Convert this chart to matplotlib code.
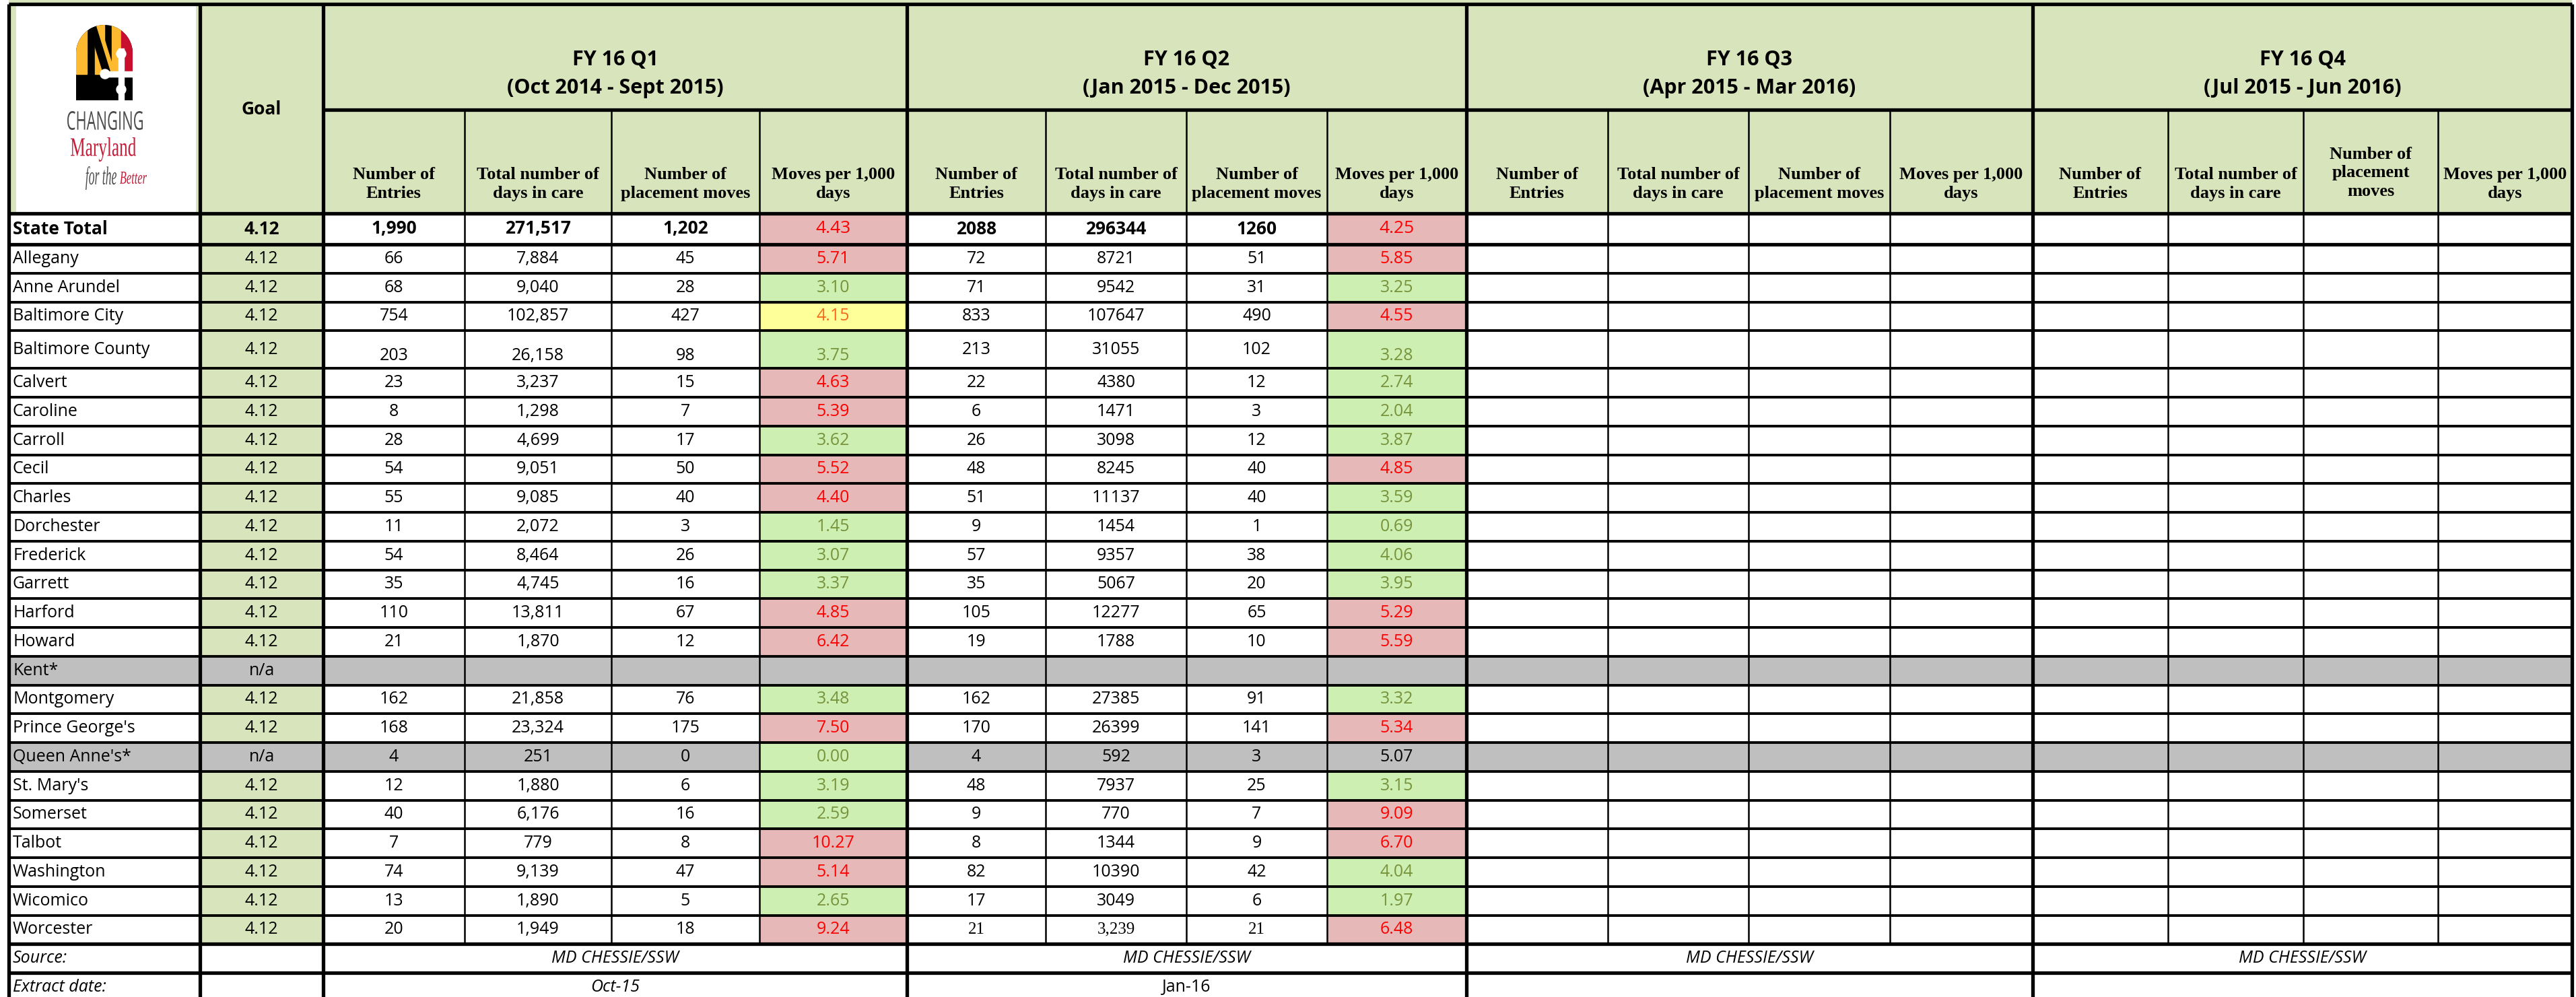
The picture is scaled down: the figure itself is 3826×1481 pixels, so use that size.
import numpy as np
import matplotlib.pyplot as plt
from matplotlib.patches import Rectangle, Circle, Polygon, PathPatch
from matplotlib.textpath import TextPath
from matplotlib.font_manager import FontProperties
from matplotlib.transforms import Affine2D

# ---- data ----
counties = ["State Total", "Allegany", "Anne Arundel", "Baltimore City", "Baltimore County",
            "Calvert", "Caroline", "Carroll", "Cecil", "Charles", "Dorchester", "Frederick",
            "Garrett", "Harford", "Howard", "Kent*", "Montgomery", "Prince George's",
            "Queen Anne's*", "St. Mary's", "Somerset", "Talbot", "Washington", "Wicomico", "Worcester"]
goal = ["4.12"] * 15 + ["n/a", "4.12", "4.12", "n/a"] + ["4.12"] * 6

q1_entries = [1990, 66, 68, 754, 203, 23, 8, 28, 54, 55, 11, 54, 35, 110, 21, None,
              162, 168, 4, 12, 40, 7, 74, 13, 20]
q1_days = [271517, 7884, 9040, 102857, 26158, 3237, 1298, 4699, 9051, 9085, 2072, 8464,
           4745, 13811, 1870, None, 21858, 23324, 251, 1880, 6176, 779, 9139, 1890, 1949]
q1_moves = [1202, 45, 28, 427, 98, 15, 7, 17, 50, 40, 3, 26, 16, 67, 12, None,
            76, 175, 0, 6, 16, 8, 47, 5, 18]
q1_rate = [4.43, 5.71, 3.10, 4.15, 3.75, 4.63, 5.39, 3.62, 5.52, 4.40, 1.45, 3.07, 3.37,
           4.85, 6.42, None, 3.48, 7.50, 0.00, 3.19, 2.59, 10.27, 5.14, 2.65, 9.24]
q1_flag = ["r", "r", "g", "y", "g", "r", "r", "g", "r", "r", "g", "g", "g", "r", "r", "",
           "g", "r", "g", "g", "g", "r", "r", "g", "r"]

q2_entries = [2088, 72, 71, 833, 213, 22, 6, 26, 48, 51, 9, 57, 35, 105, 19, None,
              162, 170, 4, 48, 9, 8, 82, 17, 21]
q2_days = [296344, 8721, 9542, 107647, 31055, 4380, 1471, 3098, 8245, 11137, 1454, 9357,
           5067, 12277, 1788, None, 27385, 26399, 592, 7937, 770, 1344, 10390, 3049, 3239]
q2_moves = [1260, 51, 31, 490, 102, 12, 3, 12, 40, 40, 1, 38, 20, 65, 10, None,
            91, 141, 3, 25, 7, 9, 42, 6, 21]
q2_rate = [4.25, 5.85, 3.25, 4.55, 3.28, 2.74, 2.04, 3.87, 4.85, 3.59, 0.69, 4.06, 3.95,
           5.29, 5.59, None, 3.32, 5.34, 5.07, 3.15, 9.09, 6.70, 4.04, 1.97, 6.48]
q2_flag = ["r", "r", "g", "r", "g", "g", "g", "g", "r", "g", "g", "g", "g", "r", "r", "",
           "g", "r", "", "g", "r", "r", "g", "g", "r"]

quarters = ["FY 16 Q1", "FY 16 Q2", "FY 16 Q3", "FY 16 Q4"]
periods = ["(Oct 2014 - Sept 2015)", "(Jan 2015 - Dec 2015)",
           "(Apr 2015 - Mar 2016)", "(Jul 2015 - Jun 2016)"]
sub_heads = ["Number of\nEntries", "Total number of\ndays in care",
             "Number of\nplacement moves", "Moves per 1,000\ndays"]
sub_heads_q4 = ["Number of\nEntries", "Total number of\ndays in care",
                "Number of\nplacement\nmoves", "Moves per 1,000\ndays"]
source_txt = ["MD CHESSIE/SSW"] * 4
extract_txt = ["Oct-15", "Jan-16", "", ""]

# ---- layout / style ----
W, H = 3826, 1481
x_name, x_goal, x_q = 13, 297, 480
q_edges = [[480, 690, 908, 1128, 1347], [1347, 1553, 1762, 1971, 2178],
           [2178, 2388, 2597, 2807, 3019], [3019, 3220, 3421, 3621, 3820]]
x_right = 3820
y_top, y_mid, y_head = 6, 163, 317
row_h = 42.75
special_h = {"State Total": 46, "Baltimore County": 56}
gray_rows = ["Kent*", "Queen Anne's*"]
q2_serif_rows = ["Worcester"]

GREEN_HEAD = "#D8E4BC"
GRAY = "#BFBFBF"
flag_style = {"r": ("#E6B8B7", "#FF0000"), "g": ("#CDEFB2", "#77933C"),
              "y": ("#FFFF99", "#F26B1D")}
SANS = "Open Sans"
SERIF = "Liberation Serif"
FS = 18

fig = plt.figure(figsize=(W / 100, H / 100), dpi=100)
ax = fig.add_axes([0, 0, 1, 1])
ax.set_xlim(0, W)
ax.set_ylim(H, 0)
ax.axis("off")


def cell(x0, x1, y0, y1, color):
    ax.add_patch(Rectangle((x0, y0), x1 - x0, y1 - y0, facecolor=color, edgecolor="none", zorder=1))


def fit_text(s, x0, x1, y0, y1, color, prop):
    # squeeze a text path into a box (used for the logo lettering)
    tp = TextPath((0, 0), s, size=50, prop=prop)
    bb = tp.get_extents()
    tr = Affine2D().translate(-bb.x0, -bb.y1).scale((x1 - x0) / bb.width, -(y1 - y0) / bb.height).translate(x0, y0)
    ax.add_patch(PathPatch(tr.transform_path(tp), facecolor=color, edgecolor="none", lw=0, zorder=4))


# row edges
edges = [y_head]
for name in counties:
    edges.append(edges[-1] + special_h.get(name, row_h))
y_src = edges[-1]
y_ext = y_src + 42.75
y_end = y_ext + 43

# ---- header ----
cell(x_name, x_right, 0, y_head, GREEN_HEAD)
cell(24, 291, 8, 316, "white")
ax.text((x_goal + x_q) / 2, 162, "Goal", ha="center", va="center", fontsize=FS + 1,
        fontweight="bold", family=SANS, zorder=5)
for qi, qe in enumerate(q_edges):
    ax.text((qe[0] + qe[-1]) / 2, 110, quarters[qi] + "\n" + periods[qi], ha="center", va="center",
            fontsize=22, fontweight="bold", family=SANS, linespacing=1.5, zorder=5)
    heads = sub_heads_q4 if qi == 3 else sub_heads
    for ci in range(4):
        n = heads[ci].count("\n")
        yc = 290 - n * 33 / 2
        ax.text((qe[ci] + qe[ci + 1]) / 2, yc, heads[ci], ha="center", va="center", fontsize=19,
                fontweight="bold", family=SERIF, linespacing=1.25, zorder=5)

# ---- logo ----
cx, cy, r = 155, 79, 42
t = np.linspace(np.pi, 0, 60)
arch = [(113, 149)] + list(zip(cx + r * np.cos(t), cy - r * np.sin(t))) + [(197, 149)]
clip = Polygon(arch, closed=True, facecolor="none", edgecolor="none")
ax.add_patch(clip)
gold, red = "#FDBA31", "#C8102E"
flag_parts = [Rectangle((113, 30), 84, 120, color="black"),
              Rectangle((113, 30), 16, 80, color=gold),
              Rectangle((141, 30), 14, 80, color=gold),
              Rectangle((166, 30), 13, 80, color=gold),
              Rectangle((180, 30), 17, 80, color=red),
              Polygon([(129, 30), (141, 30), (166, 110), (154, 110)], color="black"),
              Polygon([(141, 30), (146, 30), (171, 110), (166, 110)], color=gold),
              Rectangle((176, 72), 8, 78, color="white"),
              Rectangle((150, 106), 47, 8, color="white"),
              Circle((180, 80), 7, color="white"),
              Circle((156, 110), 7, color="white"),
              Circle((180, 133), 7, color="white")]
for p in flag_parts:
    p.set_zorder(3)
    ax.add_patch(p)
    p.set_clip_path(clip)
fit_text("CHANGING", 100, 212, 165, 193, "#4D4D4D", FontProperties(family=SANS))
fit_text("Maryland", 105, 202, 204, 240, "#C41E3A", FontProperties(family=SERIF))
fit_text("for the", 127, 173, 247, 282, "#4D4D4D", FontProperties(family=SERIF, style="italic"))
fit_text("Better", 178, 218, 255, 273, "#C41E3A", FontProperties(family=SERIF, style="italic"))

# ---- body ----
q_data = [(q1_entries, q1_days, q1_moves, q1_rate, q1_flag),
          (q2_entries, q2_days, q2_moves, q2_rate, q2_flag)]
for i, name in enumerate(counties):
    y0, y1 = edges[i], edges[i + 1]
    ym = (y0 + y1) / 2
    is_gray = name in gray_rows
    bold = "bold" if name == "State Total" else "normal"
    fs = FS + 1 if name == "State Total" else FS
    tall = name in special_h and name != "State Total"
    cell(x_name, x_goal, y0, y1, GRAY if is_gray else "white")
    cell(x_goal, x_q, y0, y1, GRAY if is_gray else GREEN_HEAD)
    ax.text(x_name + 6, ym, name, ha="left", va="center", fontsize=fs, fontweight=bold,
            family=SANS, zorder=5)
    ax.text((x_goal + x_q) / 2, ym, goal[i], ha="center", va="center", fontsize=fs,
            fontweight=bold, family=SANS, zorder=5)
    for qi, qe in enumerate(q_edges):
        base = GRAY if is_gray else "white"
        cell(qe[0], qe[-1], y0, y1, base)
        if qi >= len(q_data):
            continue
        ent, days, mov, rate, flg = q_data[qi]
        counts = [ent[i], days[i], mov[i]]
        serif = qi == 1 and name in q2_serif_rows
        for ci, v in enumerate(counts):
            if v is None:
                continue
            s = f"{v:,}" if (qi == 0 or serif) else str(v)
            yy = y1 - 19 if (tall and qi == 0) else ym
            ax.text((qe[ci] + qe[ci + 1]) / 2, yy, s, ha="center", va="center",
                    fontsize=fs, fontweight=bold, family=SERIF if serif else SANS, zorder=5)
        if rate[i] is None:
            continue
        fill, col = flag_style.get(flg[i], (base, "black"))
        cell(qe[3], qe[4], y0, y1, fill)
        yy = y1 - 19 if tall else ym
        ax.text((qe[3] + qe[4]) / 2, yy, f"{rate[i]:.2f}", ha="center", va="center",
                fontsize=fs, color=col, family=SANS, zorder=5)

# source / extract rows
cell(x_name, x_right, y_src, y_end, "white")
ax.text(x_name + 6, (y_src + y_ext) / 2, "Source:", ha="left", va="center", fontsize=FS,
        style="italic", family=SANS, zorder=5)
ax.text(x_name + 6, (y_ext + y_end) / 2, "Extract date:", ha="left", va="center", fontsize=FS,
        style="italic", family=SANS, zorder=5)
for qi, qe in enumerate(q_edges):
    xm = (qe[0] + qe[-1]) / 2
    ax.text(xm, (y_src + y_ext) / 2, source_txt[qi], ha="center", va="center", fontsize=FS,
            style="italic", family=SANS, zorder=5)
    ax.text(xm, (y_ext + y_end) / 2, extract_txt[qi], ha="center", va="center", fontsize=FS,
            style="italic" if qi == 0 else "normal", family=SANS, zorder=5)

# ---- grid lines ----
thick, mid, thin = 3.8, 2.8, 1.8
thick_rows = [edges[1], y_src, y_ext]
ax.hlines([y_top, y_head] + thick_rows, x_name, x_right, colors="black", lw=thick, zorder=6)
ax.hlines(y_mid, x_q, x_right, colors="black", lw=thick, zorder=6)
ax.hlines([e for e in edges[2:-1]], x_name, x_right, colors="black", lw=mid, zorder=6)
ax.vlines([x_name, x_goal, x_q] + [qe[-1] for qe in q_edges], y_top, y_end, colors="black",
          lw=thick, zorder=6)
ax.vlines([x for qe in q_edges for x in qe[1:4]], y_mid, y_src, colors="black", lw=thin, zorder=6)

fig.savefig("out.png", dpi=100)
